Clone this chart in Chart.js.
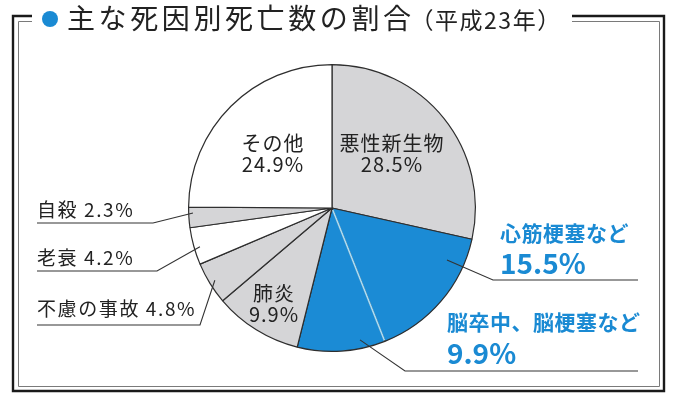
<!DOCTYPE html>
<html>
<head>
<meta charset="utf-8">
<script src="https://cdn.jsdelivr.net/npm/chart.js@4"></script>
<style>
  html, body { margin: 0; padding: 0; background: #fff; }
  #wrap { width: 679px; height: 397px; }
</style>
</head>
<body>
<div id="wrap"><canvas id="pieChart" width="679" height="397"></canvas></div>
<script>
// Data (平成23年)
const categories = ['悪性新生物', '心筋梗塞など', '脳卒中、脳梗塞など', '肺炎', '不慮の事故', '老衰', '自殺', 'その他'];
const values = [28.5, 15.5, 9.9, 9.9, 4.8, 4.2, 2.3, 24.9];
const sliceColors = ['#d5d5d7', '#1b8bd5', '#1b8bd5', '#d5d5d7', '#d5d5d7', '#ffffff', '#d5d5d7', '#ffffff'];

const titleMain = '主な死因別死亡数の割合';
const titleSub = '（平成23年）';

const JP = "'Noto Sans CJK JP', sans-serif";
const BLUE = '#1a8ad3';
const INK = '#222';

function pct(i) { return values[i].toFixed(1) + '%'; }

// label layouts: inner ones sit in the slice, outer ones get a leader line
// tip = position on the slice (fraction of its sweep, fraction of radius)
const innerLabels = [
    { i: 7, x: 273, y: 143 },
    { i: 0, x: 392, y: 143 },
    { i: 3, x: 274, y: 293 }
];
const leftLabels = [
    { i: 6, y: 210, lineY: 223, elbowX: 153, tip: [0.71, 0.97] },
    { i: 5, y: 258, lineY: 271, elbowX: 157, tip: [0.44, 0.96] },
    { i: 4, y: 309, lineY: 325, elbowX: 200, tip: [0.50, 0.96] }
];
const rightLabels = [
    { i: 1, x: 500, y: 233, y2: 263, lineY: 280, elbowX: 493, tip: [0.21, 0.88] },
    { i: 2, x: 447, y: 322, y2: 353, lineY: 371, elbowX: 405, tip: [0.27, 0.94] }
];

function tipPoint(arc, tip) {
    const a = arc.startAngle + tip[0] * (arc.endAngle - arc.startAngle);
    const r = tip[1] * arc.outerRadius;
    return [arc.x + Math.cos(a) * r, arc.y + Math.sin(a) * r];
}

const decorPlugin = {
    id: 'decor',
    afterDatasetsDraw(chart) {
        const ctx = chart.ctx;
        const arcs = chart.getDatasetMeta(0).data;

        // light divider between the two blue slices
        const b = arcs[1];
        ctx.save();
        ctx.strokeStyle = '#a9dcf5';
        ctx.lineWidth = 1.6;
        ctx.beginPath();
        ctx.moveTo(b.x + Math.cos(b.endAngle) * 2, b.y + Math.sin(b.endAngle) * 2);
        ctx.lineTo(b.x + Math.cos(b.endAngle) * (b.outerRadius - 1), b.y + Math.sin(b.endAngle) * (b.outerRadius - 1));
        ctx.stroke();
        ctx.restore();
    },
    afterDraw(chart) {
        const ctx = chart.ctx;
        const arcs = chart.getDatasetMeta(0).data;
        ctx.save();

        // double frame
        ctx.strokeStyle = '#1a1a1a';
        ctx.lineWidth = 2.4;
        ctx.beginPath();
        ctx.moveTo(32, 16); ctx.lineTo(13, 16); ctx.lineTo(13, 391);
        ctx.lineTo(664, 391); ctx.lineTo(664, 16); ctx.lineTo(572, 16);
        ctx.stroke();
        ctx.strokeStyle = '#7a7a7a';
        ctx.lineWidth = 1;
        ctx.beginPath();
        ctx.moveTo(32, 21.5); ctx.lineTo(18.5, 21.5); ctx.lineTo(18.5, 386.5);
        ctx.lineTo(659.5, 386.5); ctx.lineTo(659.5, 21.5); ctx.lineTo(572, 21.5);
        ctx.stroke();

        // title
        ctx.fillStyle = BLUE;
        ctx.beginPath();
        ctx.arc(50, 19, 8, 0, Math.PI * 2);
        ctx.fill();
        ctx.fillStyle = INK;
        ctx.textBaseline = 'middle';
        ctx.textAlign = 'left';
        ctx.font = '28px ' + JP;
        ctx.letterSpacing = '3.6px';
        ctx.fillText(titleMain, 67, 18);
        const w = ctx.measureText(titleMain).width;
        ctx.font = '23px ' + JP;
        ctx.letterSpacing = '1.5px';
        ctx.fillText(titleSub, 67 + w - 4, 20);

        // inner labels
        ctx.textAlign = 'center';
        ctx.font = '20px ' + JP;
        ctx.letterSpacing = '1px';
        innerLabels.forEach(l => {
            ctx.fillText(categories[l.i], l.x, l.y);
            ctx.fillText(pct(l.i), l.x, l.y + 21);
        });

        // left labels with leader lines
        ctx.textAlign = 'left';
        ctx.font = '19px ' + JP;
        ctx.letterSpacing = '1.6px';
        leftLabels.forEach(l => {
            ctx.fillStyle = INK;
            ctx.fillText(categories[l.i] + ' ' + pct(l.i), 37, l.y);
            const [tx, ty] = tipPoint(arcs[l.i], l.tip);
            ctx.strokeStyle = '#333';
            ctx.lineWidth = 1.1;
            ctx.beginPath();
            ctx.moveTo(37, l.lineY); ctx.lineTo(l.elbowX, l.lineY); ctx.lineTo(tx, ty);
            ctx.stroke();
        });

        // right (blue) labels
        rightLabels.forEach(l => {
            ctx.fillStyle = BLUE;
            ctx.font = 'bold 21px ' + JP;
            ctx.letterSpacing = '0.5px';
            ctx.fillText(categories[l.i], l.x, l.y);
            ctx.font = 'bold 28px ' + JP;
            ctx.letterSpacing = '0px';
            ctx.fillText(pct(l.i), l.x, l.y2);
            const [tx, ty] = tipPoint(arcs[l.i], l.tip);
            ctx.strokeStyle = '#333';
            ctx.lineWidth = 1.1;
            ctx.beginPath();
            ctx.moveTo(638, l.lineY); ctx.lineTo(l.elbowX, l.lineY); ctx.lineTo(tx, ty);
            ctx.stroke();
        });

        ctx.restore();
    }
};

new Chart(document.getElementById('pieChart').getContext('2d'), {
    type: 'pie',
    data: {
        labels: categories,
        datasets: [{
            data: values,
            backgroundColor: sliceColors,
            borderColor: '#2e2e2e',
            borderWidth: 1.2
        }]
    },
    options: {
        responsive: false,
        animation: false,
        layout: { padding: { top: 64, bottom: 45, left: 188, right: 203 } },
        plugins: {
            legend: { display: false },
            tooltip: { enabled: false }
        }
    },
    plugins: [decorPlugin]
});
</script>
</body>
</html>
